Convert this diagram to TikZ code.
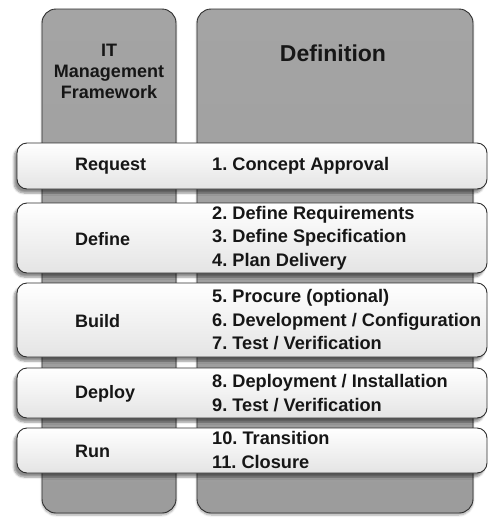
\documentclass[tikz,border=0pt]{standalone}
\usepackage{fontspec}
\setmainfont{Liberation Sans}
\frenchspacing
\usetikzlibrary{shadows.blur}
\definecolor{ink}{HTML}{161616}
\definecolor{edge}{HTML}{2E2E2E}
\definecolor{coltop}{HTML}{A4A4A4}
\definecolor{colmid}{HTML}{DCDCDC}
\definecolor{colbot}{HTML}{9C9C9C}
\definecolor{bandbot}{HTML}{E4E4E4}
\tikzset{
  column/.style={draw=edge, line width=0.9pt, rounded corners=14pt,
    top color=coltop, middle color=colmid, bottom color=colbot,
    blur shadow={shadow xshift=0pt, shadow yshift=-2pt, shadow blur steps=6, shadow opacity=35}},
  band/.style={draw=edge, line width=0.9pt, rounded corners=10pt,
    top color=white, bottom color=bandbot,
    blur shadow={shadow xshift=-3pt, shadow yshift=-4pt, shadow blur steps=6, shadow opacity=45}},
  head/.style={font=\bfseries\fontsize{18}{22}\selectfont, text=ink, align=center},
  title/.style={font=\bfseries\fontsize{23}{27}\selectfont, text=ink},
  phase/.style={font=\bfseries\fontsize{18}{23.5}\selectfont, text=ink, anchor=west, inner sep=0pt},
  steps/.style={font=\bfseries\fontsize{18.2}{23.5}\selectfont, text=ink, anchor=west, align=left, inner sep=0pt},
}
\begin{document}
\begin{tikzpicture}[x=1pt, y=-1pt]
  \useasboundingbox (0,0) rectangle (489,520);
  % the two background columns
  \path[column] (42,9) rectangle (176,513);
  \path[column] (197,9) rectangle (473,513);
  \node[head] (fw) at (109,71) {IT\\[-1pt]Management\\[-1pt]Framework};
  \node[title] (def) at (333,53) {Definition};
  % phase bands laid across both columns
  \path[band] (17,143) rectangle (487,189);
  \path[band] (17,203) rectangle (487,273);
  \path[band] (17,283) rectangle (487,357);
  \path[band] (17,368) rectangle (487,418);
  \path[band] (17,428) rectangle (487,473);
  % phase names
  \node[phase] (request) at (75,166) {Request};
  \node[phase] (define) at (75,239) {Define};
  \node[phase] (build) at (75,321) {Build};
  \node[phase] (deploy) at (75,394) {Deploy};
  \node[phase] (run) at (75,451) {Run};
  % steps of each phase
  \node[steps] (s1) at (212,166) {1. Concept Approval};
  \node[steps] (s2) at (212,238) {2. Define Requirements\\3. Define Specification\\4. Plan Delivery};
  \node[steps] (s5) at (212,320) {5. Procure (optional)\\6. Development / Configuration\\7. Test / Verification};
  \node[steps] (s8) at (212,393) {8. Deployment / Installation\\9. Test / Verification};
  \node[steps] (s10) at (212,450) {10. Transition\\11. Closure};
\end{tikzpicture}
\end{document}
